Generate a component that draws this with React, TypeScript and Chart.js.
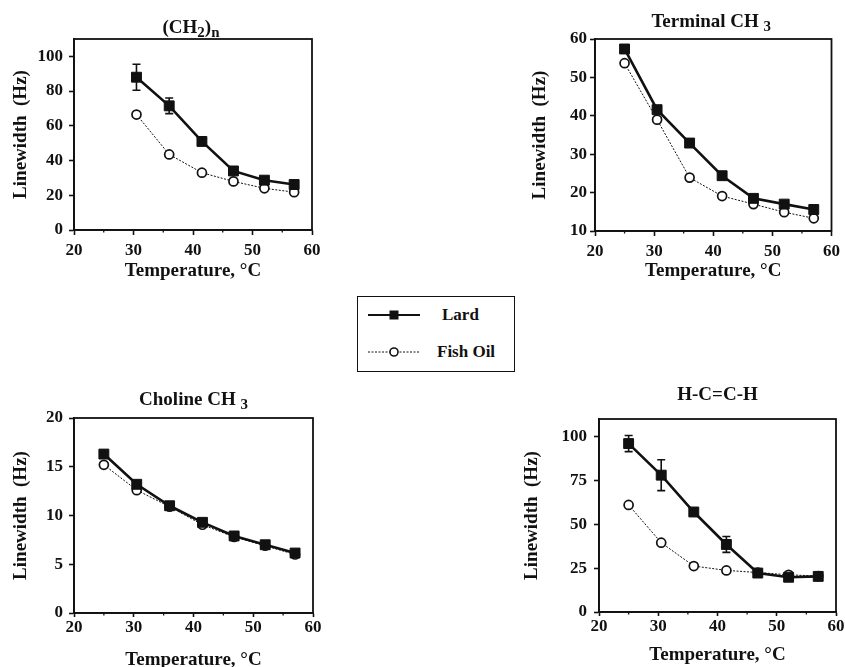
import React, { useEffect, useRef } from 'react';
import { Chart, registerables } from 'chart.js';

Chart.register(...registerables);

// ---------------- data ----------------
const temps = [25, 30.5, 36, 41.5, 46.8, 52, 57];
const tempsCH2 = [30.5, 36, 41.5, 46.8, 52, 57];

const lardCH2 = [88, 71.5, 51, 34, 28.7, 26.2];
const lardCH2Err = [7.5, 4.5, 1.5, 0, 0, 0];
const fishCH2 = [66.5, 43.5, 33, 28, 24, 21.8];

const lardTerm = [57.4, 41.6, 32.9, 24.4, 18.5, 17.0, 15.6];
const lardTermErr = [0, 0, 0, 0, 0, 0, 0];
const fishTerm = [53.7, 39.0, 23.9, 19.1, 17.0, 14.9, 13.3];

const lardChol = [16.3, 13.2, 11.0, 9.3, 7.9, 7.0, 6.15];
const lardCholErr = [0, 0, 0, 0, 0, 0, 0];
const fishChol = [15.2, 12.6, 10.9, 9.05, 7.8, 6.9, 6.0];

const lardHCCH = [96, 78, 57, 38.5, 22.2, 19.8, 20.3];
const lardHCCHErr = [4.6, 8.8, 1.5, 4.5, 0, 1.5, 0];
const fishHCCH = [61, 39.5, 26.2, 23.7, 22.5, 21.2, 20.5];

const xMinorTicks = [25, 35, 45, 55];
const seriesNames = ['Lard', 'Fish Oil'];
const xAxisTitle = 'Temperature, °C';
const yAxisTitle = 'Linewidth  (Hz)';

// ---------------- styles ----------------
const FONT = "'Liberation Serif', 'Times New Roman', serif";
const INK = '#111111';

type Seg = { t: string; sub?: boolean };

type PanelCfg = {
  left: number; top: number; width: number; height: number;
  pad: { left: number; right: number; top: number; bottom: number };
  yWidth: number; xHeight: number;
  yMin: number; yMax: number; yStep: number;
  xs: number[]; lard: number[]; fish: number[]; lardErr: number[];
  title: Seg[]; titleGap: number; titleDx: number;
  xTickLen: number; xTickPad: number; yTickPad: number; yTitlePad: number; xTitlePadBottom: number;
};

const panels: PanelCfg[] = [
  {
    left: 0, top: 0, width: 340, height: 300,
    pad: { left: 0, right: 28, top: 39, bottom: 18 },
    yWidth: 74, xHeight: 52, yMin: 0, yMax: 110, yStep: 20,
    xs: tempsCH2, lard: lardCH2, fish: fishCH2, lardErr: lardCH2Err,
    title: [{ t: '(CH' }, { t: '2', sub: true }, { t: ')' }, { t: 'n', sub: true }],
    titleGap: 6, titleDx: -2,
    xTickLen: 5, xTickPad: 5, yTickPad: 6, yTitlePad: 10, xTitlePadBottom: 0,
  },
  {
    left: 420, top: 0, width: 425, height: 300,
    pad: { left: 100, right: 12, top: 39, bottom: 18 },
    yWidth: 75, xHeight: 51, yMin: 10, yMax: 60, yStep: 10,
    xs: temps, lard: lardTerm, fish: fishTerm, lardErr: lardTermErr,
    title: [{ t: 'Terminal CH ' }, { t: '3', sub: true }],
    titleGap: 12, titleDx: -2,
    xTickLen: 5, xTickPad: 5, yTickPad: 3, yTitlePad: 9, xTitlePadBottom: 0,
  },
  {
    left: 0, top: 370, width: 340, height: 310,
    pad: { left: 0, right: 27, top: 48, bottom: 9 },
    yWidth: 74, xHeight: 58, yMin: 0, yMax: 20, yStep: 5,
    xs: temps, lard: lardChol, fish: fishChol, lardErr: lardCholErr,
    title: [{ t: 'Choline CH ' }, { t: '3', sub: true }],
    titleGap: 13, titleDx: 0,
    xTickLen: 4, xTickPad: 0, yTickPad: 6, yTitlePad: 10, xTitlePadBottom: 0,
  },
  {
    left: 420, top: 370, width: 425, height: 310,
    pad: { left: 100, right: 9, top: 49, bottom: 14 },
    yWidth: 79, xHeight: 54, yMin: 0, yMax: 110, yStep: 25,
    xs: temps, lard: lardHCCH, fish: fishHCCH, lardErr: lardHCCHErr,
    title: [{ t: 'H-C=C-H' }],
    titleGap: 19, titleDx: 0,
    xTickLen: 4, xTickPad: 0, yTickPad: 7, yTitlePad: 1, xTitlePadBottom: 0,
  },
];

function Panel({ cfg }: { cfg: PanelCfg }) {
  const ref = useRef<HTMLCanvasElement | null>(null);

  useEffect(() => {
    if (!ref.current) return;

    const titlePlugin = {
      id: 'panelTitle',
      afterDraw(chart: any) {
        const ctx = chart.ctx;
        const a = chart.chartArea;
        const mainFont = `bold 19px ${FONT}`;
        const subFont = `bold 15px ${FONT}`;
        let w = 0;
        cfg.title.forEach((s) => {
          ctx.font = s.sub ? subFont : mainFont;
          w += ctx.measureText(s.t).width;
        });
        let x = (a.left + a.right) / 2 - w / 2 + cfg.titleDx;
        const y = a.top - cfg.titleGap;
        ctx.save();
        ctx.fillStyle = INK;
        ctx.textAlign = 'left';
        ctx.textBaseline = 'alphabetic';
        cfg.title.forEach((s) => {
          ctx.font = s.sub ? subFont : mainFont;
          ctx.fillText(s.t, x, s.sub ? y + 4 : y);
          x += ctx.measureText(s.t).width;
        });
        ctx.restore();
      },
    };

    const framePlugin = {
      id: 'frameMinor',
      beforeDatasetsDraw(chart: any) {
        const ctx = chart.ctx;
        const a = chart.chartArea;
        const xs = chart.scales.x;
        ctx.save();
        ctx.strokeStyle = INK;
        ctx.lineWidth = 1.8;
        ctx.strokeRect(a.left, a.top, a.right - a.left, a.bottom - a.top);
        ctx.lineWidth = 1.3;
        xMinorTicks.forEach((v) => {
          const px = xs.getPixelForValue(v);
          ctx.beginPath();
          ctx.moveTo(px, a.bottom);
          ctx.lineTo(px, a.bottom + 2.5);
          ctx.stroke();
        });
        ctx.restore();
      },
    };

    const errorPlugin = {
      id: 'errorBars',
      afterDatasetsDraw(chart: any) {
        const ctx = chart.ctx;
        const xs = chart.scales.x;
        const ys = chart.scales.y;
        ctx.save();
        ctx.strokeStyle = INK;
        ctx.lineWidth = 1.6;
        cfg.lardErr.forEach((e, i) => {
          if (!e) return;
          const px = xs.getPixelForValue(cfg.xs[i]);
          const yHi = ys.getPixelForValue(cfg.lard[i] + e);
          const yLo = ys.getPixelForValue(cfg.lard[i] - e);
          ctx.beginPath();
          ctx.moveTo(px, yHi); ctx.lineTo(px, yLo);
          ctx.moveTo(px - 4, yHi); ctx.lineTo(px + 4, yHi);
          ctx.moveTo(px - 4, yLo); ctx.lineTo(px + 4, yLo);
          ctx.stroke();
        });
        ctx.restore();
      },
    };

    const tickFont = { family: FONT, size: 17, weight: 'bold' as const };
    const titleFont = { family: FONT, size: 19, weight: 'bold' as const };

    const chart = new Chart(ref.current, {
      type: 'line',
      data: {
        datasets: [
          {
            label: seriesNames[0],
            data: cfg.xs.map((x, i) => ({ x, y: cfg.lard[i] })),
            borderColor: INK,
            borderWidth: 2.6,
            pointStyle: 'rect',
            pointRadius: 7,
            pointBackgroundColor: INK,
            pointBorderColor: INK,
            pointBorderWidth: 1,
            tension: 0,
          },
          {
            label: seriesNames[1],
            data: cfg.xs.map((x, i) => ({ x, y: cfg.fish[i] })),
            borderColor: INK,
            borderWidth: 1,
            borderDash: [2, 1.5],
            pointStyle: 'circle',
            pointRadius: 4.5,
            pointBackgroundColor: '#ffffff',
            pointBorderColor: INK,
            pointBorderWidth: 1.7,
            tension: 0,
          },
        ],
      },
      options: {
        animation: false,
        responsive: false,
        devicePixelRatio: 1,
        layout: { padding: cfg.pad },
        plugins: {
          legend: { display: false },
          tooltip: { enabled: false },
          title: { display: false },
        },
        scales: {
          x: {
            type: 'linear',
            min: 20,
            max: 60,
            afterFit: (s: any) => { s.height = cfg.xHeight; },
            ticks: {
              stepSize: 10,
              autoSkip: false,
              maxRotation: 0,
              padding: cfg.xTickPad,
              color: INK,
              font: tickFont,
              includeBounds: false,
            },
            grid: {
              display: true,
              drawOnChartArea: false,
              drawTicks: true,
              tickLength: cfg.xTickLen,
              tickColor: INK,
              tickWidth: 1.6,
            },
            border: { display: true, color: INK, width: 1.8 },
            title: {
              display: true,
              text: xAxisTitle,
              color: INK,
              font: titleFont,
              padding: { top: 0, bottom: cfg.xTitlePadBottom },
            },
          },
          y: {
            type: 'linear',
            min: cfg.yMin,
            max: cfg.yMax,
            afterFit: (s: any) => { s.width = cfg.yWidth; },
            ticks: {
              stepSize: cfg.yStep,
              autoSkip: false,
              padding: cfg.yTickPad,
              color: INK,
              font: tickFont,
              includeBounds: false,
            },
            grid: {
              display: true,
              drawOnChartArea: false,
              drawTicks: true,
              tickLength: 5,
              tickColor: INK,
              tickWidth: 1.6,
            },
            border: { display: true, color: INK, width: 1.8 },
            title: {
              display: true,
              text: yAxisTitle,
              color: INK,
              font: titleFont,
              padding: { top: cfg.yTitlePad, bottom: 0 },
            },
          },
        },
      },
      plugins: [framePlugin, errorPlugin, titlePlugin],
    } as any);

    return () => chart.destroy();
  }, [cfg]);

  return (
    <canvas
      ref={ref}
      width={cfg.width}
      height={cfg.height}
      style={{
        position: 'absolute',
        left: cfg.left,
        top: cfg.top,
        width: cfg.width,
        height: cfg.height,
      }}
    />
  );
}

function Legend() {
  const textStyle: React.CSSProperties = {
    position: 'absolute',
    fontFamily: FONT,
    fontWeight: 'bold',
    fontSize: 17,
    lineHeight: '18px',
    color: INK,
    whiteSpace: 'nowrap',
  };
  return (
    <div
      style={{
        position: 'absolute',
        left: 357,
        top: 296,
        width: 158,
        height: 76,
        boxSizing: 'border-box',
        border: `1.5px solid ${INK}`,
        background: '#fff',
      }}
    >
      <svg width={156} height={74} style={{ position: 'absolute', left: 0, top: 0 }}>
        <line x1={10} y1={18} x2={62} y2={18} stroke={INK} strokeWidth={2} />
        <rect x={31.5} y={13.5} width={9} height={9} fill={INK} />
        <line x1={10} y1={55} x2={62} y2={55} stroke={INK} strokeWidth={1} strokeDasharray="2 1.5" />
        <circle cx={36} cy={55} r={4} fill="#fff" stroke={INK} strokeWidth={1.6} />
      </svg>
      <span style={{ ...textStyle, left: 84, top: 9 }}>{seriesNames[0]}</span>
      <span style={{ ...textStyle, left: 79, top: 46 }}>{seriesNames[1]}</span>
    </div>
  );
}

export default function App() {
  return (
    <div
      style={{
        position: 'absolute',
        left: 0,
        top: 0,
        width: 845,
        height: 667,
        overflow: 'hidden',
        background: '#fff',
        fontFamily: FONT,
      }}
    >
      {panels.map((p, i) => (
        <Panel key={i} cfg={p} />
      ))}
      <Legend />
    </div>
  );
}
